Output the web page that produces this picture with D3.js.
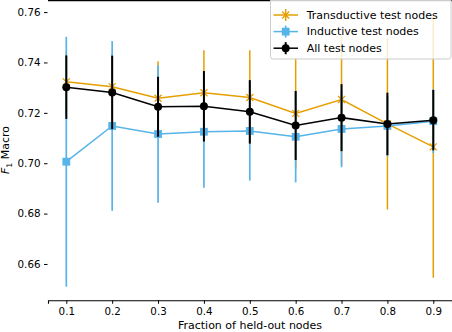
<!DOCTYPE html>
<html><head><meta charset="utf-8">
<script src="https://cdn.jsdelivr.net/npm/d3@7"></script>
<style>body{margin:0;background:#fff}svg{display:block}text{font-family:"DejaVu Sans",sans-serif}</style>
</head><body><svg id="c" width="452" height="332"></svg>
<script>
const fractions = [0.1,0.2,0.3,0.4,0.5,0.6,0.7,0.8,0.9];
const transMean = [0.7323,0.7304,0.7258,0.7280,0.7261,0.7198,0.7253,0.7156,0.7065];
const transErr  = [0.012,0.013,0.0147,0.0169,0.0188,0.022,0.026,0.034,0.052];
const indMean   = [0.7006,0.7148,0.7116,0.7125,0.7128,0.7105,0.7136,0.7148,0.7167];
const indErr    = [0.0496,0.0337,0.0273,0.0222,0.0197,0.0181,0.0152,0.012,0.0127];
const allMean   = [0.7302,0.7281,0.7224,0.7226,0.7204,0.7150,0.7181,0.7156,0.7171];
const allErr    = [0.0126,0.0146,0.0119,0.014,0.0126,0.0137,0.0133,0.0124,0.012];
const yTicks = [0.66,0.68,0.70,0.72,0.74,0.76];
const xTicks = [0.1,0.2,0.3,0.4,0.5,0.6,0.7,0.8,0.9];
const seriesNames = ["Transductive test nodes","Inductive test nodes","All test nodes"];
const xLabel = "Fraction of held-out nodes";

const svg = d3.select("#c");
const x = d3.scaleLinear().domain([0.0601,0.9408]).range([48,452]);
const y = d3.scaleLinear().domain([0.6457,0.7648]).range([300,0]);

const series = [
  {name:seriesNames[0], mean:transMean, err:transErr, color:"#E69F00", marker:"x"},
  {name:seriesNames[1], mean:indMean, err:indErr, color:"#56B4E9", marker:"square"},
  {name:seriesNames[2], mean:allMean, err:allErr, color:"#000000", marker:"circle"}
];

// top line
svg.append("line").attr("x1",48).attr("x2",452).attr("y1",0.6).attr("y2",0.6).attr("stroke","#000").attr("stroke-width",1.3);

// axes
const gx = svg.append("g").attr("transform","translate(0,300.3)")
  .call(d3.axisBottom(x).tickValues(xTicks).tickSize(3.5).tickPadding(3.5).tickFormat(d3.format(".1f")));
gx.select(".domain").attr("stroke-width",1.1);
gx.selectAll(".tick line").attr("stroke-width",1);
gx.selectAll("text").attr("font-size",10.3).attr("fill","#000");

const gy = svg.append("g").attr("transform","translate(47.5,0)")
  .call(d3.axisLeft(y).tickValues(yTicks).tickSize(3.5).tickPadding(3.5).tickFormat(d3.format(".2f")));
gy.select(".domain").remove();
gy.selectAll(".tick line").attr("stroke-width",1);
gy.selectAll("text").attr("font-size",10.3).attr("fill","#000");

svg.append("text").attr("x",250).attr("y",328.5).attr("text-anchor","middle").attr("font-size",11).text(xLabel);
const yl = svg.append("text").attr("transform","translate(9,150) rotate(-90)").attr("text-anchor","middle").attr("font-size",11);
yl.append("tspan").attr("font-style","italic").text("F");
yl.append("tspan").attr("font-size",7.7).attr("dy",2.5).text("1");
yl.append("tspan").attr("dy",-2.5).text(" Macro");

function drawMarker(g, type, cx, cy, color, s) {
  if (type==="x") {
    const r = s*0.5;
    g.append("path").attr("d",`M${cx-r},${cy-r}L${cx+r},${cy+r}M${cx-r},${cy+r}L${cx+r},${cy-r}`)
      .attr("stroke",color).attr("stroke-width",1.3).attr("fill","none");
  } else if (type==="square") {
    g.append("rect").attr("x",cx-s*0.5).attr("y",cy-s*0.5).attr("width",s).attr("height",s).attr("fill",color);
  } else {
    g.append("circle").attr("cx",cx).attr("cy",cy).attr("r",s*0.5).attr("fill",color);
  }
}
const sizes = {x:7, square:7.8, circle:8};
const barW = {x:1.5, square:1.7, circle:2};

series.forEach(s => {
  const g = svg.append("g");
  fractions.forEach((f,i) => {
    g.append("line").attr("x1",x(f)).attr("x2",x(f))
      .attr("y1",y(s.mean[i]-s.err[i])).attr("y2",y(s.mean[i]+s.err[i]))
      .attr("stroke",s.color).attr("stroke-width",barW[s.marker]);
  });
  g.append("path").datum(fractions.map((f,i)=>[f,s.mean[i]]))
    .attr("d",d3.line().x(d=>x(d[0])).y(d=>y(d[1])))
    .attr("fill","none").attr("stroke",s.color).attr("stroke-width",1.5);
  fractions.forEach((f,i) => drawMarker(g, s.marker, x(f), y(s.mean[i]), s.color, sizes[s.marker]));
});

// legend
const lg = svg.append("g");
lg.append("rect").attr("x",270.5).attr("y",-3).attr("width",180.5).attr("height",62)
  .attr("rx",2.5).attr("fill","rgba(255,255,255,0.8)").attr("stroke","#cccccc").attr("stroke-width",1);
series.forEach((s,i) => {
  const cy = 15 + i*16.6;
  lg.append("line").attr("x1",273.5).attr("x2",298).attr("y1",cy).attr("y2",cy).attr("stroke",s.color).attr("stroke-width",1.5);
  lg.append("line").attr("x1",285.7).attr("x2",285.7).attr("y1",cy-6).attr("y2",cy+6).attr("stroke",s.color).attr("stroke-width",barW[s.marker]);
  drawMarker(lg, s.marker, 285.7, cy, s.color, sizes[s.marker]);
  lg.append("text").attr("x",306.7).attr("y",cy+3.8).attr("font-size",11).text(s.name);
});
</script></body></html>
